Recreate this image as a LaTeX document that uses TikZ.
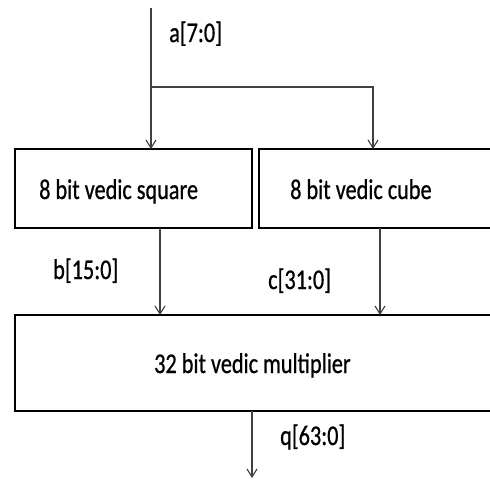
\documentclass[tikz,border=0pt]{standalone}
\usepackage{fontspec}
\setmainfont{Carlito}
\newfontfamily\lblfont[FakeBold=0.8]{Carlito}
\usetikzlibrary{arrows.meta}
\newcommand{\lbl}[1]{\scalebox{0.78}[1]{\fontsize{28.5}{32}\lblfont #1}}
\begin{document}
\begin{tikzpicture}[x=1pt,y=-1pt,
  blockbox/.style={draw=black,line width=2pt},
  wire/.style={draw=black!75,line width=1.1pt},
  arr/.style={wire,-{Straight Barb[length=8pt,width=10pt,line width=1.1pt]}},
  txt/.style={inner sep=0pt,anchor=base west}]
\useasboundingbox[fill=white] (0,0) rectangle (490,483);
\clip (0,0) rectangle (490,483);
% blocks
\draw[blockbox] (15,149) rectangle (252,228);
\draw[blockbox] (259,149) rectangle (496,228);
\draw[blockbox] (15,315) rectangle (496,411);
\coordinate (sqT) at (151,149);
\coordinate (cuT) at (373,149);
\coordinate (sqB) at (160,228);
\coordinate (cuB) at (380,228);
\coordinate (muTa) at (160,315);
\coordinate (muTb) at (380,315);
\coordinate (muB) at (252,411);
\coordinate (in) at (151,8);
\coordinate (br) at (151,87);
\coordinate (out) at (252,478);
\node[txt] (tsq) at (39,199) {\lbl{8 bit vedic square}};
\node[txt] (tcu) at (290,199) {\lbl{8 bit vedic cube}};
\node[txt] (tmu) at (154,373) {\lbl{32 bit vedic multiplier}};
\node[txt] (la) at (169,42) {\lbl{a[7:0]}};
\node[txt] (lb) at (53,279) {\lbl{b[15:0]}};
\node[txt] (lc) at (268,289) {\lbl{c[31:0]}};
\node[txt] (lq) at (280,445) {\lbl{q[63:0]}};
% wires
\draw[arr] (in) -- (sqT);
\draw[arr] (br) -- (373,87) -- (cuT);
\draw[arr] (sqB) -- (muTa);
\draw[arr] (cuB) -- (muTb);
\draw[arr] (muB) -- (out);
\end{tikzpicture}
\end{document}
